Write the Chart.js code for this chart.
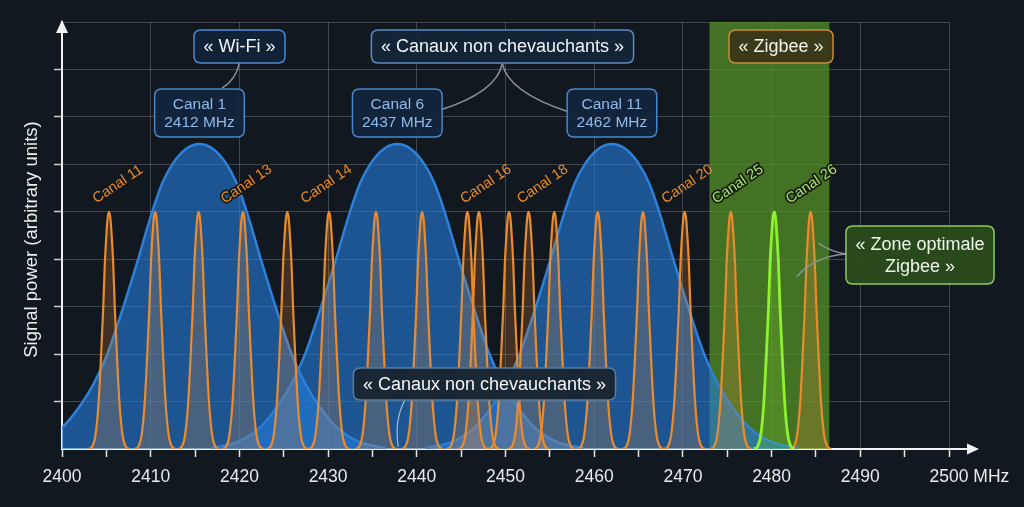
<!DOCTYPE html>
<html>
<head>
<meta charset="utf-8">
<script src="https://cdn.jsdelivr.net/npm/chart.js@4.4.1/dist/chart.umd.min.js"></script>
<style>
  html, body { margin: 0; padding: 0; background: #121820; }
  canvas { display: block; }
</style>
</head>
<body>
<canvas id="c" width="1024" height="507"></canvas>
<script>
// ---------------- DATA ----------------
const xMin = 2400;
const xMax = 2500;
const yMax = 9;
const xTickStep = 5;
const xLabelStep = 10;
const xUnit = 'MHz';
const yTitle = 'Signal power (arbitrary units)';

// Wi-Fi channels (broad bells)
const wifiChannels = ['Canal 1', 'Canal 6', 'Canal 11'];
const wifiFreqLabels = ['2412 MHz', '2437 MHz', '2462 MHz'];
const wifiCenters = [2415.5, 2437.8, 2462.0];
// sampled half-profile of one Wi-Fi bell: offset from centre (MHz) / power
const wifiProfileOffsets = [0, 1.5, 3.0, 4.2, 5.5, 7.0, 8.7, 10.5, 12.0, 13.5, 15.5, 18.0, 21.0];
const wifiProfileValues  = [6.43, 6.33, 6.02, 5.6, 4.9, 3.95, 2.93, 1.95, 1.35, 0.9, 0.45, 0.15, 0.02];

// Zigbee narrow peaks (orange) and the optimal one (green)
const zigbeeCenters = [2405.3, 2410.5, 2415.4, 2420.4, 2425.4, 2430.1, 2435.4, 2440.6,
                       2445.7, 2447.0, 2450.4, 2452.6, 2455.5, 2460.4, 2465.5, 2470.2,
                       2475.4, 2484.4];
const optimalCenters = [2480.3];
const peakProfileOffsets = [0, 0.15, 0.3, 0.47, 0.66, 0.9, 1.18, 1.52, 1.9, 2.3];
const peakProfileValues  = [5.0, 4.87, 4.5, 3.92, 2.93, 1.95, 0.97, 0.3, 0.05, 0];

// rotated channel labels
const channelLabels     = ['Canal 11', 'Canal 13', 'Canal 14', 'Canal 16', 'Canal 18', 'Canal 20', 'Canal 25', 'Canal 26'];
const channelLabelFreqs = [2406.3, 2420.8, 2429.8, 2447.8, 2454.2, 2470.5, 2476.2, 2484.5];
const channelLabelLevel = 5.58;

// Zigbee band
const zigbeeZone = [2473.0, 2486.5];

// annotation texts
const textWifi = '« Wi-Fi »';
const textNonOverlap = '« Canaux non chevauchants »';
const textZigbee = '« Zigbee »';
const textZone = ['« Zone optimale', 'Zigbee »'];

// ---------------- STYLE ----------------
const FONT = '"Liberation Sans", Arial, Helvetica, sans-serif';
const BG = '#121820';
const GRID = 'rgba(255,255,255,0.2)';
const AXIS = '#f0f2f4';

function curve(center, offs, vals) {
  const pts = [];
  for (let i = offs.length - 1; i > 0; i--) pts.push({ x: center - offs[i], y: vals[i] });
  for (let i = 0; i < offs.length; i++) pts.push({ x: center + offs[i], y: vals[i] });
  return pts;
}

const datasets = [];
optimalCenters.forEach(c => datasets.push({
  data: curve(c, peakProfileOffsets, peakProfileValues),
  borderColor: '#8df230', backgroundColor: 'rgba(140,240,50,0.18)',
  borderWidth: 2.8, fill: 'origin', order: 0
}));
zigbeeCenters.forEach(c => datasets.push({
  data: curve(c, peakProfileOffsets, peakProfileValues),
  borderColor: '#e98b2e', backgroundColor: 'rgba(230,140,55,0.22)',
  borderWidth: 2.2, fill: 'origin', order: 1
}));
wifiCenters.forEach(c => datasets.push({
  data: curve(c, wifiProfileOffsets, wifiProfileValues),
  borderColor: '#2e80d8', backgroundColor: 'rgba(36,122,216,0.62)',
  borderWidth: 2.5, fill: 'origin', order: 2
}));

// annotation styles
const boxStyleWifi = { fill: 'rgba(18,34,56,0.96)', stroke: '#4a8ad0', color: '#f2f4f7' };
const boxStyleCanal = { fill: 'rgba(18,36,60,0.96)', stroke: '#4a86c8', color: '#8fbaea' };
const boxStyleNon = { fill: 'rgba(20,36,56,0.96)', stroke: '#5a8cc4', color: '#f2f4f7' };
const boxStyleZig = { fill: 'rgba(58,56,26,0.97)', stroke: '#c98b3c', color: '#f4f1e6' };
const boxStyleZone = { fill: 'rgba(42,74,28,0.97)', stroke: '#8ccb5c', color: '#eef6e6' };
const boxStyleBottom = { fill: 'rgba(24,36,50,0.96)', stroke: '#5b7e9e', color: '#f4f6f8' };

function roundRect(ctx, x, y, w, h, r) {
  ctx.beginPath();
  ctx.moveTo(x + r, y);
  ctx.lineTo(x + w - r, y);
  ctx.quadraticCurveTo(x + w, y, x + w, y + r);
  ctx.lineTo(x + w, y + h - r);
  ctx.quadraticCurveTo(x + w, y + h, x + w - r, y + h);
  ctx.lineTo(x + r, y + h);
  ctx.quadraticCurveTo(x, y + h, x, y + h - r);
  ctx.lineTo(x, y + r);
  ctx.quadraticCurveTo(x, y, x + r, y);
  ctx.closePath();
}

function drawBox(ctx, cx, cy, lines, size, lineH, h, st) {
  ctx.font = size + 'px ' + FONT;
  let tw = 0;
  lines.forEach(l => tw = Math.max(tw, ctx.measureText(l).width));
  const w = tw + 19;
  roundRect(ctx, cx - w / 2, cy - h / 2, w, h, 7);
  ctx.fillStyle = st.fill; ctx.fill();
  ctx.lineWidth = 1.5; ctx.strokeStyle = st.stroke; ctx.stroke();
  ctx.fillStyle = st.color;
  ctx.textAlign = 'center'; ctx.textBaseline = 'middle';
  const y0 = cy - (lines.length - 1) * lineH / 2;
  lines.forEach((l, i) => ctx.fillText(l, cx, y0 + i * lineH + 1));
}

function connector(ctx, X, Y, p0, c, p1, color, lw) {
  ctx.beginPath();
  ctx.moveTo(X(p0[0]), Y(p0[1]));
  ctx.quadraticCurveTo(X(c[0]), Y(c[1]), X(p1[0]), Y(p1[1]));
  ctx.strokeStyle = color; ctx.lineWidth = lw; ctx.stroke();
}

const overlay = {
  id: 'overlay',
  beforeDraw(chart) {
    const { ctx, width, height } = chart;
    ctx.save(); ctx.fillStyle = BG; ctx.fillRect(0, 0, width, height); ctx.restore();
  },
  beforeDatasetsDraw(chart) {
    const { ctx, chartArea: a, scales: { x } } = chart;
    const x0 = x.getPixelForValue(zigbeeZone[0]), x1 = x.getPixelForValue(zigbeeZone[1]);
    ctx.save();
    ctx.fillStyle = 'rgba(88,150,38,0.72)';
    ctx.fillRect(x0, a.top, x1 - x0, a.bottom - a.top);
    ctx.restore();
  },
  afterDraw(chart) {
    const { ctx, chartArea: a, scales } = chart;
    const X = v => scales.x.getPixelForValue(v);
    const Y = v => scales.y.getPixelForValue(v);
    ctx.save();

    // axis arrows
    ctx.fillStyle = AXIS; ctx.strokeStyle = AXIS; ctx.lineWidth = 2;
    ctx.beginPath(); ctx.moveTo(a.right, a.bottom); ctx.lineTo(a.right + 22, a.bottom); ctx.stroke();
    ctx.beginPath();
    ctx.moveTo(a.right + 30, a.bottom); ctx.lineTo(a.right + 18, a.bottom - 5.5); ctx.lineTo(a.right + 18, a.bottom + 5.5);
    ctx.closePath(); ctx.fill();
    ctx.beginPath();
    ctx.moveTo(a.left, a.top - 2); ctx.lineTo(a.left - 6, a.top + 11); ctx.lineTo(a.left + 6, a.top + 11);
    ctx.closePath(); ctx.fill();

    // unit after last tick label
    const items = scales.x.getLabelItems();
    const last = items.find(it => it.label === String(xMax));
    if (last) {
      const o = last.options;
      ctx.font = last.font.string;
      ctx.fillStyle = '#e8eaed';
      ctx.textAlign = 'left';
      ctx.textBaseline = o.textBaseline;
      const w = ctx.measureText(last.label).width;
      ctx.fillText(' ' + xUnit, o.translation[0] + w / 2, o.translation[1] + (last.textOffset || 0));
    }

    // y axis title
    ctx.save();
    ctx.translate(a.left - 30.5, (a.top + a.bottom) / 2 + 4);
    ctx.rotate(-Math.PI / 2);
    ctx.font = '18.5px ' + FONT;
    ctx.fillStyle = '#eceef0';
    ctx.textAlign = 'center'; ctx.textBaseline = 'middle';
    ctx.fillText(yTitle, 0, 0);
    ctx.restore();

    // rotated channel labels
    const outlined = [false, true, false, false, false, false, true, true];
    const labColor = ['#e98b2e', '#e98b2e', '#e98b2e', '#e98b2e', '#e98b2e', '#e98b2e', '#a4e46e', '#a4e46e'];
    channelLabels.forEach((t, i) => {
      ctx.save();
      ctx.translate(X(channelLabelFreqs[i]), Y(channelLabelLevel));
      ctx.rotate(-34 * Math.PI / 180);
      ctx.font = '14.5px ' + FONT;
      ctx.textAlign = 'center'; ctx.textBaseline = 'middle';
      if (outlined[i]) {
        ctx.lineWidth = 3.5; ctx.strokeStyle = 'rgba(20,22,16,0.9)'; ctx.lineJoin = 'round';
        ctx.strokeText(t, 0, 0);
      }
      ctx.fillStyle = labColor[i];
      ctx.fillText(t, 0, 0);
      ctx.restore();
    });

    // connectors
    const gray = '#8b929b';
    connector(ctx, X, Y, [2420.0, 8.137], [2419.6, 7.78], [2418.05, 7.604], gray, 1.5);
    connector(ctx, X, Y, [2449.64, 8.13], [2449.04, 7.526], [2442.62, 7.146], gray, 1.5);
    connector(ctx, X, Y, [2449.64, 8.13], [2450.28, 7.526], [2457.08, 7.11], gray, 1.5);
    connector(ctx, X, Y, [2488.39, 4.11], [2486.81, 4.153], [2485.26, 4.336], gray, 1.5);
    connector(ctx, X, Y, [2488.39, 4.11], [2484.88, 4.068], [2482.83, 3.632], gray, 1.5);
    connector(ctx, X, Y, [2438.67, 1.033], [2437.43, 0.611], [2437.91, 0.048], '#a9bccd', 1.2);

    // boxes
    drawBox(ctx, X(2420.01), Y(8.484), [textWifi], 18, 20, 33, boxStyleWifi);
    drawBox(ctx, X(2449.66), Y(8.484), [textNonOverlap], 18, 20, 33, boxStyleNon);
    drawBox(ctx, X(2481.06), Y(8.484), [textZigbee], 18, 20, 33, boxStyleZig);
    wifiCenters.forEach((c, i) =>
      drawBox(ctx, X(c), Y(7.083), [wifiChannels[i], wifiFreqLabels[i]], 15.5, 18.4, 48, boxStyleCanal));
    drawBox(ctx, X(2496.73), Y(4.089), textZone, 18, 21.7, 58, boxStyleZone);
    drawBox(ctx, X(2447.63), Y(1.37), [textNonOverlap], 18, 20, 32, boxStyleBottom);

    ctx.restore();
  }
};

new Chart(document.getElementById('c'), {
  type: 'line',
  data: { datasets },
  options: {
    responsive: false,
    devicePixelRatio: 1,
    animation: false,
    events: [],
    layout: { padding: { top: 22, right: 75, left: 0, bottom: 0 } },
    elements: {
      point: { radius: 0 },
      line: { cubicInterpolationMode: 'monotone' }
    },
    plugins: { legend: { display: false }, tooltip: { enabled: false } },
    scales: {
      x: {
        type: 'linear', min: xMin, max: xMax, z: 1,
        afterBuildTicks: s => {
          const t = [];
          for (let v = xMin; v <= xMax; v += xTickStep) t.push({ value: v });
          s.ticks = t;
        },
        ticks: {
          autoSkip: false, maxRotation: 0, minRotation: 0, padding: 10,
          color: '#e8eaed', font: { family: FONT, size: 17.5 },
          callback: v => (v % xLabelStep === 0 ? String(v) : '')
        },
        grid: {
          color: c => (c.tick && c.tick.value % xLabelStep === 0 && c.tick.value !== xMin) ? GRID : 'rgba(0,0,0,0)',
          tickColor: '#e4e6e8', tickLength: 8, tickWidth: 1.5, lineWidth: 1
        },
        border: { color: AXIS, width: 2 },
        afterFit: s => { s.height = 58; }
      },
      y: {
        min: 0, max: yMax, z: 1,
        ticks: { stepSize: 1, callback: () => '', padding: 0 },
        grid: {
          color: c => (c.tick && c.tick.value === 0) ? 'rgba(0,0,0,0)' : GRID,
          tickColor: c => (c.tick && (c.tick.value === 0 || c.tick.value === yMax)) ? 'rgba(0,0,0,0)' : '#c8ccd0',
          tickLength: 8, tickWidth: 1.5, lineWidth: 1
        },
        border: { color: AXIS, width: 2 },
        afterFit: s => { s.width = 62; }
      }
    }
  },
  plugins: [overlay]
});
</script>
</body>
</html>
